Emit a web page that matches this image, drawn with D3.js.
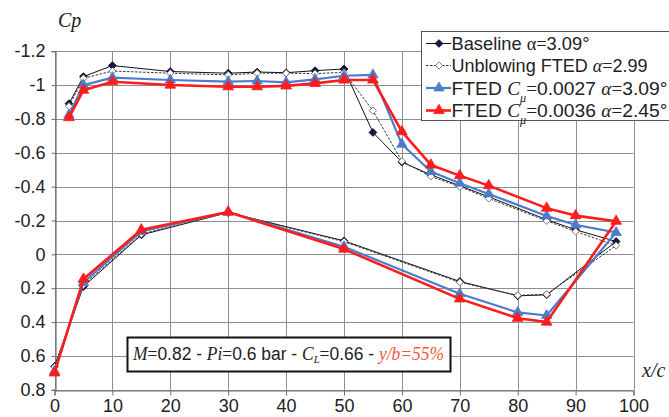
<!DOCTYPE html>
<html><head><meta charset="utf-8">
<script src="https://cdn.jsdelivr.net/npm/d3@7"></script>
<style>
html,body{margin:0;padding:0;background:#fff;}
svg{display:block;}
</style></head>
<body>
<svg id="chart" width="669" height="417"></svg>
<script>
// ---- data ----
const xUpper = [2.5, 5, 10, 20, 30, 35, 40, 45, 50, 55, 60, 65, 70, 75, 85, 90, 97];
const xLower = [85, 80, 70, 50, 30, 15, 5, 0];

const baselineUpper = [-0.89, -1.05, -1.115, -1.08, -1.07, -1.077, -1.073, -1.085, -1.095, -0.72, -0.545, -0.47, -0.405, -0.34, -0.205, -0.145, -0.076];
const baselineLower = [0.239, 0.245, 0.16, -0.08, -0.247, -0.115, 0.19, 0.662];

const unblowingUpper = [-0.875, -1.04, -1.083, -1.07, -1.06, -1.07, -1.07, -1.068, -1.075, -0.849, -0.55, -0.46, -0.40, -0.33, -0.198, -0.135, -0.052];
const unblowingLower = [0.236, 0.242, 0.165, -0.075, -0.247, -0.12, 0.18, 0.665];

const fted27Upper = [-0.823, -1.0, -1.044, -1.03, -1.02, -1.024, -1.016, -1.034, -1.055, -1.06, -0.65, -0.489, -0.42, -0.357, -0.227, -0.174, -0.129];
const fted27Lower = [0.361, 0.343, 0.233, -0.045, -0.25, -0.135, 0.166, 0.69];

const fted36Upper = [-0.808, -0.97, -1.02, -1.0, -0.99, -0.99, -0.995, -1.01, -1.03, -1.03, -0.725, -0.528, -0.465, -0.406, -0.273, -0.229, -0.196];
const fted36Lower = [0.40, 0.377, 0.263, -0.031, -0.25, -0.145, 0.146, 0.70];

const xTicks = [0, 10, 20, 30, 40, 50, 60, 70, 80, 90, 100];
const yTicks = [-1.2, -1, -0.8, -0.6, -0.4, -0.2, 0, 0.2, 0.4, 0.6, 0.8];

// ---- setup ----
const svg = d3.select("#chart");
const x = d3.scaleLinear().domain([0, 100]).range([54.5, 633.5]);
const y = d3.scaleLinear().domain([-1.2, 0.8]).range([51.2, 389.8]);
const SANS = "'Liberation Sans', Arial, sans-serif";
const SERIF = "'Liberation Serif', 'Times New Roman', serif";

const gridColor = "#8e8e8e";

// grid
const grid = svg.append("g");
grid.selectAll("line.h").data(yTicks).join("line")
  .attr("x1", x(0)).attr("x2", x(100))
  .attr("y1", d => Math.round(y(d)) + 0.5).attr("y2", d => Math.round(y(d)) + 0.5)
  .attr("stroke", gridColor).attr("stroke-width", 1);
grid.selectAll("line.v").data(xTicks).join("line")
  .attr("y1", y(-1.2)).attr("y2", y(0.8))
  .attr("x1", d => Math.round(x(d)) + 0.5).attr("x2", d => Math.round(x(d)) + 0.5)
  .attr("stroke", gridColor).attr("stroke-width", 1);

// axes
const fmt = d => String(+d.toFixed(1));
const yAxis = svg.append("g").attr("transform", `translate(${Math.round(x(0)) + 0.5},0)`)
  .call(d3.axisLeft(y).tickValues(yTicks).tickFormat(fmt).tickSize(4).tickPadding(6));
const xAxis = svg.append("g").attr("transform", `translate(0,${Math.round(y(0.8)) + 0.5})`)
  .call(d3.axisBottom(x).tickValues(xTicks).tickFormat(fmt).tickSize(5).tickPadding(4));
[yAxis, xAxis].forEach(a => {
  a.select(".domain").attr("stroke", "#6e6e6e").attr("stroke-width", 1.2);
  a.selectAll(".tick line").attr("stroke", "#6e6e6e");
  a.selectAll("text").attr("font-family", SANS).attr("font-size", 18).attr("fill", "#222");
});
xAxis.selectAll("text").attr("dy", "0.71em");

// series
const line = d3.line().x(d => x(d[0])).y(d => y(d[1]));
function pts(up, lo) {
  return xUpper.map((v, i) => [v, up[i]]).concat(xLower.map((v, i) => [v, lo[i]]));
}
const series = [
  {name: "base", data: pts(baselineUpper, baselineLower), stroke: "#111", width: 1, dash: null,
   sym: d3.symbolSquare, size: 30, rot: 45, fill: "#14184a", mstroke: "#000"},
  {name: "unb", data: pts(unblowingUpper, unblowingLower), stroke: "#333", width: 1, dash: "2.5,1.5",
   sym: d3.symbolSquare, size: 26, rot: 45, fill: "#fff", mstroke: "#666"},
  {name: "b27", data: pts(fted27Upper, fted27Lower), stroke: "#4c7ccc", width: 2.2, dash: null,
   sym: d3.symbolTriangle, size: 46, rot: 0, fill: "#4c7ccc", mstroke: "#4c7ccc"},
  {name: "r36", data: pts(fted36Upper, fted36Lower), stroke: "#ff1c1c", width: 2.6, dash: null,
   sym: d3.symbolTriangle, size: 50, rot: 0, fill: "#ff1c1c", mstroke: "#ff1c1c"}
];
series.forEach(s => {
  const g = svg.append("g");
  g.append("path").attr("d", line(s.data)).attr("fill", "none")
    .attr("stroke", s.stroke).attr("stroke-width", s.width)
    .attr("stroke-dasharray", s.dash).attr("stroke-linejoin", "round");
  g.selectAll("path.m").data(s.data).join("path").attr("class", "m")
    .attr("d", d3.symbol().type(s.sym).size(s.size))
    .attr("transform", d => `translate(${x(d[0])},${y(d[1])}) rotate(${s.rot})`)
    .attr("fill", s.fill).attr("stroke", s.mstroke).attr("stroke-width", 0.8);
});

// axis titles
svg.append("text").attr("x", 58).attr("y", 27).attr("font-family", SERIF)
  .attr("font-style", "italic").attr("font-size", 20).attr("fill", "#222").text("Cp");
svg.append("text").attr("x", 642).attr("y", 377).attr("font-family", SERIF)
  .attr("font-style", "italic").attr("font-size", 20).attr("fill", "#222").text("x/c");

// annotation box
svg.append("rect").attr("x", 127.5).attr("y", 337.5).attr("width", 323).attr("height", 34)
  .attr("fill", "#fff").attr("stroke", "#111").attr("stroke-width", 2);
const ann = svg.append("text").attr("x", 133).attr("y", 360).attr("font-size", 18)
  .attr("font-family", SANS).attr("fill", "#222")
  .attr("textLength", 311).attr("lengthAdjust", "spacingAndGlyphs");
ann.append("tspan").attr("font-family", SERIF).attr("font-style", "italic").text("M");
ann.append("tspan").attr("font-family", SERIF).text("=");
ann.append("tspan").text("0.82 - ");
ann.append("tspan").attr("font-family", SERIF).attr("font-style", "italic").text("Pi");
ann.append("tspan").attr("font-family", SERIF).text("=");
ann.append("tspan").text("0.6 bar - ");
ann.append("tspan").attr("font-family", SERIF).attr("font-style", "italic").text("C");
ann.append("tspan").attr("font-family", SERIF).attr("font-style", "italic").attr("font-size", 11).attr("dy", 3).text("L");
ann.append("tspan").attr("font-family", SERIF).attr("dy", -3).text("=");
ann.append("tspan").text("0.66 - ");
ann.append("tspan").attr("font-family", SERIF).attr("font-style", "italic").attr("fill", "#f2573a").text("y/b=55%");

// legend
svg.append("rect").attr("x", 421.5).attr("y", 31.5).attr("width", 260).attr("height", 89)
  .attr("fill", "#fff").attr("stroke", "#555").attr("stroke-width", 1);
const legRows = [43.5, 65.5, 88, 110.5];
const legLens = [138, 196, 216, 216];
series.forEach((s, i) => {
  const ly = legRows[i];
  svg.append("line").attr("x1", 426).attr("x2", 451).attr("y1", ly).attr("y2", ly)
    .attr("stroke", s.stroke).attr("stroke-width", s.width).attr("stroke-dasharray", s.dash);
  svg.append("path").attr("d", d3.symbol().type(s.sym).size(s.size))
    .attr("transform", `translate(439,${ly}) rotate(${s.rot})`)
    .attr("fill", s.fill).attr("stroke", s.mstroke).attr("stroke-width", 0.8);
});
function legText(i) {
  return svg.append("text").attr("x", 451.5).attr("y", legRows[i] + 6.5)
    .attr("font-family", SANS).attr("font-size", 19).attr("fill", "#222")
    .attr("textLength", legLens[i]).attr("lengthAdjust", "spacingAndGlyphs");
}
let t = legText(0);
t.append("tspan").text("Baseline ");
t.append("tspan").attr("font-family", SERIF).text("α=");
t.append("tspan").text("3.09°");
t = legText(1);
t.append("tspan").text("Unblowing FTED ");
t.append("tspan").attr("font-family", SERIF).attr("font-style", "italic").text("α");
t.append("tspan").attr("font-family", SERIF).text("=");
t.append("tspan").text("2.99");
[["0.0027", "3.09°"], ["0.0036", "2.45°"]].forEach((p, k) => {
  const tt = legText(2 + k);
  tt.append("tspan").text("FTED ");
  tt.append("tspan").attr("font-family", SERIF).attr("font-style", "italic").text("C");
  tt.append("tspan").attr("font-family", SERIF).attr("font-style", "italic").attr("font-size", 12).attr("dy", 7).text("μ");
  tt.append("tspan").attr("font-family", SERIF).attr("dy", -7).text("=");
  tt.append("tspan").text(p[0] + " ");
  tt.append("tspan").attr("font-family", SERIF).attr("font-style", "italic").text("α");
  tt.append("tspan").attr("font-family", SERIF).text("=");
  tt.append("tspan").text(p[1]);
});
</script>
</body></html>
